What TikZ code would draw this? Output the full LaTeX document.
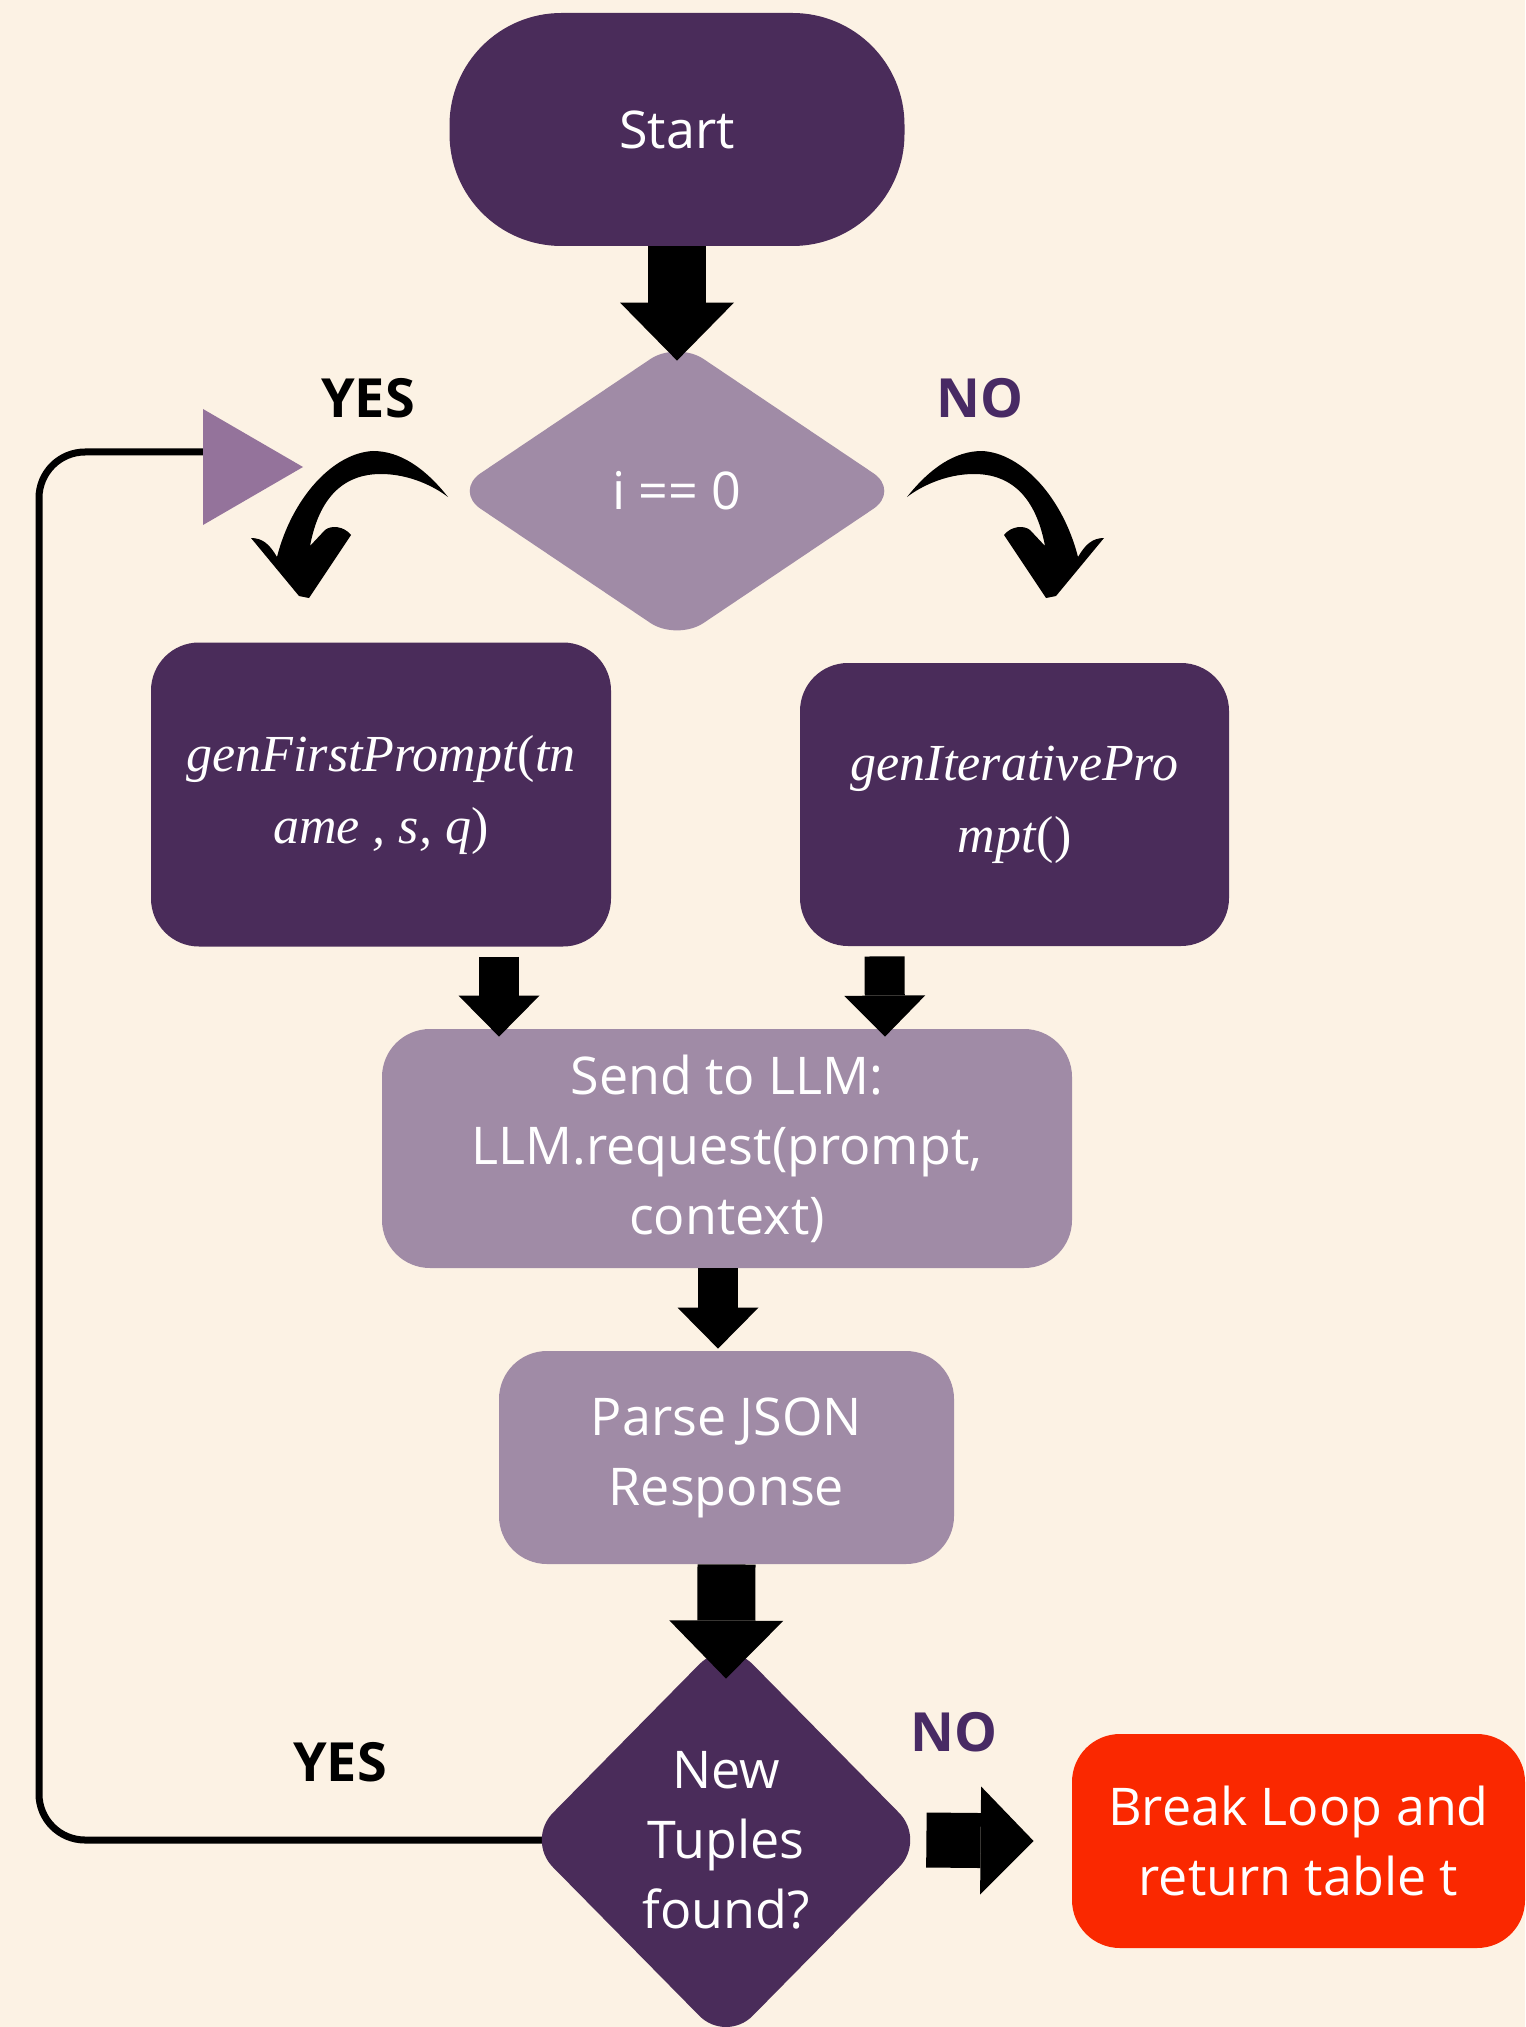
\documentclass[tikz,border=0pt]{standalone}
\usepackage{fontspec}
\setmainfont{Open Sans}
\newfontfamily\codefont{Liberation Serif}
\usetikzlibrary{arrows.meta,shapes.geometric,calc}

\definecolor{bgcream}{RGB}{252,242,228}
\definecolor{plumdark}{RGB}{74,44,90}
\definecolor{plumlight}{RGB}{160,139,166}
\definecolor{plumloop}{RGB}{148,115,155}
\definecolor{plumlabel}{RGB}{72,42,100}
\definecolor{breakred}{RGB}{250,40,0}

\tikzset{
    boxtext/.style={text=white, align=center, font=\fontsize{26}{35}\selectfont},
    procbox/.style={boxtext, rectangle, rounded corners=24pt, inner sep=0pt},
    codebox/.style={procbox, font=\codefont\itshape\fontsize{26}{36}\selectfont},
    decision/.style={boxtext, diamond, inner sep=0pt},
    answer/.style={font=\fontsize{27}{32}\selectfont\bfseries},
    bigblock/.style={line width=29pt, -{Triangle[width=57pt, length=29pt, line width=0pt]}},
    sideblock/.style={line width=27.5pt, -{Triangle[width=54pt, length=26.5pt, line width=0pt]}},
    smallblock/.style={line width=20pt, -{Triangle[width=40.5pt, length=20.5pt, line width=0pt]}},
    loopline/.style={line width=3.5pt, rounded corners=23pt},
    swoosh/.pic={
        \fill (448,497) .. controls (425,468) and (400,451) .. (373,451)
            .. controls (333,453) and (292,498) .. (277,557)
            .. controls (270,545) and (263,538) .. (251,538)
            -- (299,596) -- (309,598) -- (351,535)
            .. controls (344,526) and (331,525) .. (325,530) -- (310,546)
            .. controls (319,498) and (343,474) .. (381,474)
            .. controls (410,474) and (435,487) .. cycle;
    },
}

\begin{document}
\begin{tikzpicture}[x=0.5pt, y=-0.5pt]
    % Define the layers
    \pgfdeclarelayer{back}
    \pgfsetlayers{back,main}

    \useasboundingbox (0,0) rectangle (1525,2027);

    % Nodes
    \node[procbox, fill=plumdark, minimum width=227.5pt, minimum height=116.5pt, rounded corners=56pt] (start) at (677, 129.5) {Start};
    \node[decision, fill=plumlight, minimum width=223pt, minimum height=150pt, rounded corners=16pt] (zerocheck) at (677, 491) {i == 0};
    \node[codebox, fill=plumdark, minimum width=230pt, minimum height=152pt] (firstprompt) at (381, 794.5) {genFirstPrompt\textup{(}tn\\ame , s, q\textup{)}};
    \node[codebox, fill=plumdark, minimum width=214.5pt, minimum height=141.5pt] (iterprompt) at (1014.5, 804.5) {genIterativePro\\mpt\textup{()}};
    \node[procbox, fill=plumlight, minimum width=345pt, minimum height=119.5pt] (sendllm) at (727, 1148.5) {Send to LLM:\\LLM.request(prompt,\\context)};
    \node[procbox, fill=plumlight, minimum width=227.5pt, minimum height=106.5pt] (parsejson) at (726.5, 1457.5) {Parse JSON\\Response};
    \node[decision, fill=plumdark, minimum width=200pt, minimum height=203pt, rounded corners=19pt] (tuplecheck) at (726, 1840) {New\\Tuples\\found?};
    \node[procbox, fill=breakred, minimum width=226.5pt, minimum height=107pt] (breakloop) at (1298.5, 1841) {Break Loop and\\return table t};

    % Labels
    \node[answer] (yestop) at (368, 398) {YES};
    \node[answer, text=plumlabel] (notop) at (980, 398) {NO};
    \node[answer] (yesbottom) at (340, 1762) {YES};
    \node[answer, text=plumlabel] (nobottom) at (954, 1732) {NO};

    % Loop back
    \coordinate (loopend) at (203, 452);
    \begin{pgfonlayer}{back}
        \fill[bgcream] (0,0) rectangle (1525,2027);
        \draw[loopline] ($(tuplecheck.west)+(20,0)$) -| (39, 452) -- (loopend);
    \end{pgfonlayer}
    \fill[plumloop] (loopend) ++(0,-43) -- ++(100,58) -- ++(-100,58) -- cycle;

    % Block arrows
    \draw[bigblock] (start.south) -- ($(zerocheck.north)+(0,20)$);
    \draw[smallblock] ($(firstprompt.south)+(118,10)$) -- ($(sendllm.north)+(-228,8)$);
    \draw[smallblock] ($(iterprompt.south)+(-130,10)$) -- ($(sendllm.north)+(158,8)$);
    \draw[smallblock] ($(sendllm.south)+(-9,0)$) -- ($(parsejson.north)+(-8.5,-2)$);
    \draw[bigblock] (parsejson.south) -- ($(tuplecheck.north)+(0,42)$);
    \draw[sideblock] (tuplecheck.east) -- ($(breakloop.west)+(-38,0)$);

    % Curved arrows
    \pic at (0,0) {swoosh};
    \pic[xscale=-1] at (1355,0) {swoosh};
\end{tikzpicture}
\end{document}
